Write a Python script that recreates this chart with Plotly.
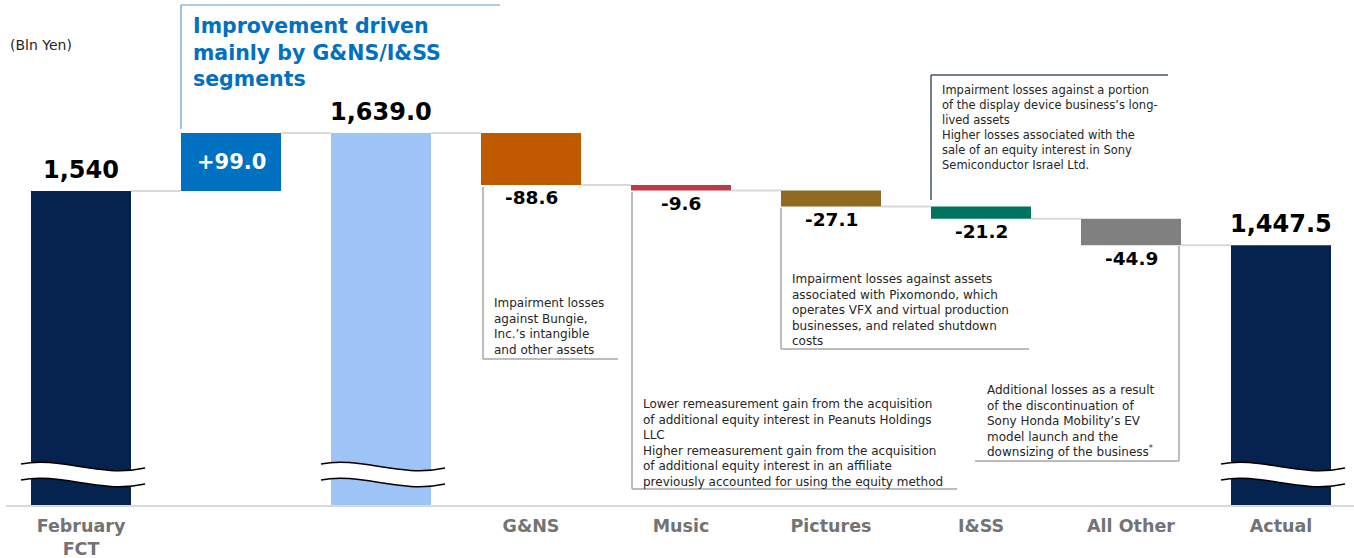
import plotly.graph_objects as go

# ---------------- data ----------------
categories = ["February<br>FCT", "", "", "G&NS", "Music", "Pictures", "I&SS", "All Other", "Actual"]
kinds = ["total", "delta", "total", "delta", "delta", "delta", "delta", "delta", "total"]
values = [1540.0, 99.0, 1639.0, -88.6, -9.6, -27.1, -21.2, -44.9, 1447.5]
value_labels = ["1,540", "+99.0", "1,639.0", "-88.6", "-9.6", "-27.1", "-21.2", "-44.9", "1,447.5"]
bar_colors = ["#06234F", "#0070C0", "#9DC3F7", "#C05A00", "#BE3A46",
              "#8F6A20", "#00755E", "#808080", "#06234F"]
broken_bars = [0, 2, 8]

notes = {
    "G&NS": "Impairment losses<br>against Bungie,<br>Inc.’s intangible<br>and other assets",
    "Music": ("Lower remeasurement gain from the acquisition<br>of additional equity interest in Peanuts Holdings<br>LLC<br>"
              "Higher remeasurement gain from the acquisition<br>of additional equity interest in an affiliate<br>"
              "previously accounted for using the equity method"),
    "Pictures": ("Impairment losses against assets<br>associated with Pixomondo, which<br>operates VFX and virtual production<br>"
                 "businesses, and related shutdown<br>costs"),
    "I&SS": ("Impairment losses against a portion<br>of the display device business’s long-<br>lived assets<br>"
             "Higher losses associated with the<br>sale of an equity interest in Sony<br>Semiconductor Israel Ltd."),
    "All Other": ("Additional losses as a result<br>of the discontinuation of<br>Sony Honda Mobility’s EV<br>"
                  "model launch and the<br>downsizing of the business<sup>*</sup>"),
}
title_text = "Improvement driven<br>mainly by G&NS/I&SS<br>segments"
unit_text = "(Bln Yen)"

# ---------------- layout geometry ----------------
W, H = 1354, 558
L, T, B = 6, 0, 53
PW, PH = W - L - 0, H - T - B
SLOT = 150.0
X_RANGE = [-0.5, -0.5 + PW / SLOT]
Y_RANGE = [1004.2, 1866.0]
FONT = "DejaVu Sans"


def px_x(px):
    return (px - L) / PW


def px_y(py):
    return 1 - (py - T) / PH


# ---------------- waterfall computation ----------------
bases, heights, levels = [], [], []
running = 0.0
for k, v in zip(kinds, values):
    if k == "total":
        bases.append(0.0)
        heights.append(v)
        running = v
    else:
        bases.append(running if v > 0 else running + v)
        heights.append(abs(v))
        running = running + v
    levels.append(running)

xs = list(range(len(categories)))
half = 1 / 3

fig = go.Figure()
fig.add_trace(go.Bar(
    x=xs, y=heights, base=bases,
    marker=dict(color=bar_colors, line=dict(width=0)),
    width=[2 * half] * len(xs),
    hoverinfo="skip", showlegend=False,
))

shapes = []
annotations = []

# connectors
for i in range(len(xs) - 1):
    shapes.append(dict(type="line", xref="x", yref="y",
                       x0=xs[i] + half, x1=xs[i + 1] - half,
                       y0=levels[i], y1=levels[i],
                       line=dict(color="#D9D9D9", width=2)))

# value labels
for i, (k, v, lab) in enumerate(zip(kinds, values, value_labels)):
    top = bases[i] + heights[i]
    if k == "total":
        annotations.append(dict(x=xs[i], y=top, xref="x", yref="y", text=lab,
                                showarrow=False, yanchor="middle", yshift=21,
                                font=dict(family=FONT, size=24, color="#000000", weight="bold")))
    elif v > 0:
        annotations.append(dict(x=xs[i], y=bases[i] + heights[i] / 2, xref="x", yref="y", text=lab,
                                showarrow=False, yanchor="middle",
                                font=dict(family=FONT, size=21, color="#FFFFFF", weight="bold")))
    else:
        annotations.append(dict(x=xs[i], y=bases[i], xref="x", yref="y", text=lab,
                                showarrow=False, yanchor="middle", yshift=-13,
                                font=dict(family=FONT, size=18.5, color="#000000", weight="bold")))

# axis break marks (wavy white bands)
for i in broken_bars:
    cx = L + (xs[i] - X_RANGE[0]) * SLOT
    x0, x1 = cx - 60, cx + 64
    y0 = 464
    d = 16

    def wave(yoff):
        return [(x0, y0 + yoff), (x0 + 39, y0 - 8 + yoff), (x0 + 79, y0 + 14 + yoff), (x1, y0 + 4 + yoff)]

    top_pts = wave(0)
    bot_pts = wave(d)

    def pth(pts, start="M"):
        (a, b), (c1x, c1y), (c2x, c2y), (ex, ey) = pts
        return (f"{start} {px_x(a):.5f},{px_y(b):.5f} C {px_x(c1x):.5f},{px_y(c1y):.5f} "
                f"{px_x(c2x):.5f},{px_y(c2y):.5f} {px_x(ex):.5f},{px_y(ey):.5f}")

    rb = list(reversed(bot_pts))
    band = pth(top_pts) + " " + pth(rb, "L") + " Z"
    shapes.append(dict(type="path", xref="paper", yref="paper", path=band,
                       fillcolor="#FFFFFF", line=dict(width=0), layer="above"))
    shapes.append(dict(type="path", xref="paper", yref="paper", path=pth(top_pts),
                       line=dict(color="#000000", width=1.5), layer="above"))
    shapes.append(dict(type="path", xref="paper", yref="paper", path=pth(bot_pts),
                       line=dict(color="#000000", width=1.5), layer="above"))


def seg(xa, ya, xb, yb, color, width=1.5):
    shapes.append(dict(type="line", xref="paper", yref="paper",
                       x0=px_x(xa), y0=px_y(ya), x1=px_x(xb), y1=px_y(yb),
                       line=dict(color=color, width=width)))


def note(text, xleft, ytop, size=12):
    annotations.append(dict(x=px_x(xleft), y=px_y(ytop), xref="paper", yref="paper",
                            text=text, showarrow=False, xanchor="left", yanchor="top",
                            align="left", font=dict(family=FONT, size=size, color="#262626")))


# title bracket
seg(181, 129, 181, 5, "#5B9BD5", 1.2)
seg(181, 5, 500, 5, "#5B9BD5", 1.2)
annotations.append(dict(x=px_x(191), y=px_y(12), xref="paper", yref="paper", text=title_text,
                        showarrow=False, xanchor="left", yanchor="top", align="left",
                        font=dict(family=FONT, size=20.5, color="#0070C0", weight="bold")))
annotations.append(dict(x=px_x(8), y=px_y(45), xref="paper", yref="paper", text=unit_text,
                        showarrow=False, xanchor="left", yanchor="middle",
                        font=dict(family=FONT, size=14, color="#262626")))

# callouts
GRAY = "#A6A6A6"
seg(483, 187, 483, 359, GRAY)
seg(483, 359, 618, 359, GRAY)
note(notes["G&NS"], 492, 294)

seg(632, 192, 632, 489, GRAY)
seg(632, 489, 957, 489, GRAY)
note(notes["Music"], 641, 395)

seg(781, 208, 781, 349, GRAY)
seg(781, 349, 1029, 349, GRAY)
note(notes["Pictures"], 790, 270)

seg(931, 75, 931, 200, "#44546A")
seg(931, 75, 1168, 75, "#44546A")
note(notes["I&SS"], 940, 81, 11.5)

seg(1179, 246, 1179, 461, GRAY)
seg(975, 461, 1179, 461, GRAY)
note(notes["All Other"], 985, 381)

tick_idx = [i for i, c in enumerate(categories) if c]

fig.update_layout(
    width=W, height=H,
    margin=dict(l=L, r=0, t=T, b=B, pad=0, autoexpand=False),
    paper_bgcolor="#FFFFFF", plot_bgcolor="#FFFFFF",
    bargap=1 / 3,
    shapes=shapes, annotations=annotations,
    xaxis=dict(range=X_RANGE, tickvals=[xs[i] for i in tick_idx],
               ticktext=[categories[i] for i in tick_idx],
               showgrid=False, zeroline=False, automargin=False,
               showline=True, linecolor="#D9D9D9", linewidth=2, ticks="",
               ticklabelstandoff=4,
               tickfont=dict(family=FONT, size=17.5, color="#737373", weight="bold"),
               fixedrange=True),
    yaxis=dict(range=Y_RANGE, visible=False, showgrid=False, zeroline=False,
               automargin=False, fixedrange=True),
    font=dict(family=FONT),
)

fig.write_html("out.html", config={"displayModeBar": False})
